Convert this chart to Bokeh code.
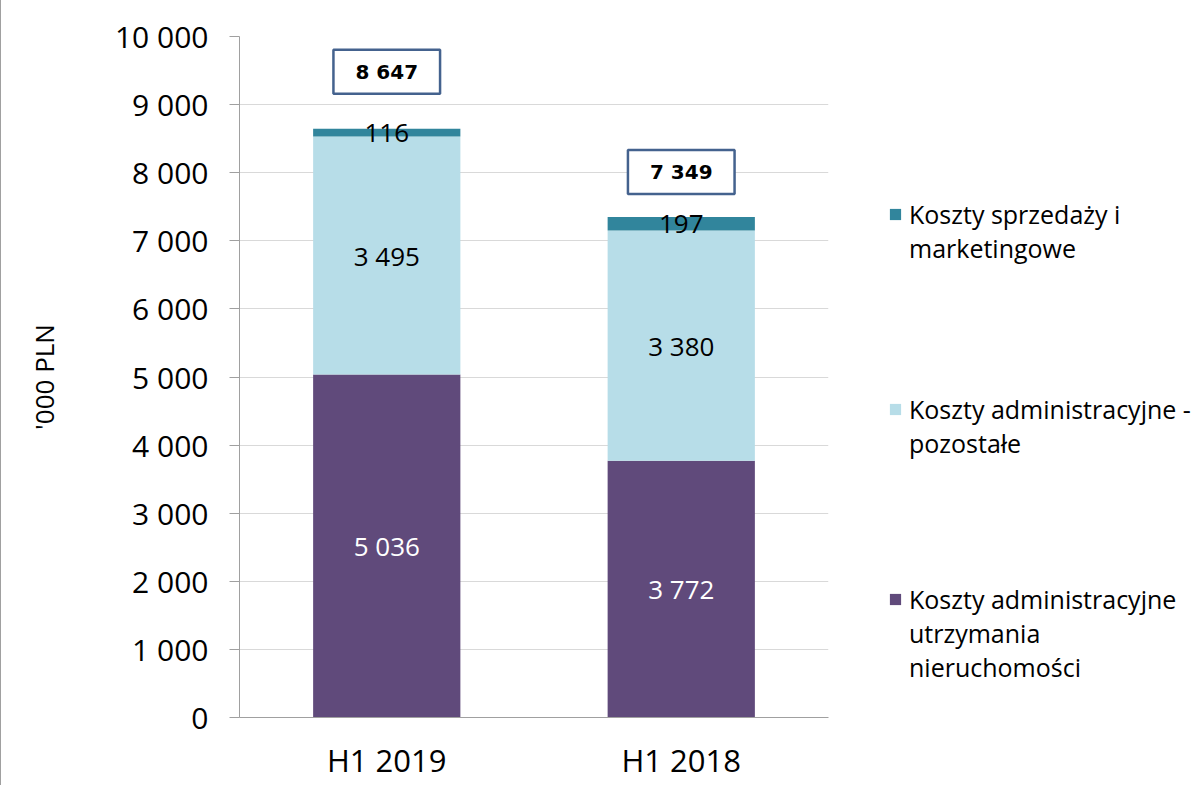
from bokeh.plotting import figure
from bokeh.layouts import row
from bokeh.models import ColumnDataSource, FactorRange, Range1d, Legend, LegendItem, FixedTicker
from bokeh.core.properties import value
from bokeh.embed import file_html
from bokeh.resources import INLINE

# ---- data ----
categories = ["H1 2019", "H1 2018"]
utrzymanie = [5036, 3772]      # Koszty administracyjne utrzymania nieruchomości
pozostale = [3495, 3380]       # Koszty administracyjne - pozostałe
sprzedaz = [116, 197]          # Koszty sprzedaży i marketingowe
totals = [8647, 7349]
series_lines = [
    ["Koszty administracyjne", "utrzymania", "nieruchomości"],
    ["Koszty administracyjne -", "pozostałe"],
    ["Koszty sprzedaży i", "marketingowe"],
]
y_ticks = [0, 1000, 2000, 3000, 4000, 5000, 6000, 7000, 8000, 9000, 10000]
y_tick_labels = ["0", "1 000", "2 000", "3 000", "4 000", "5 000",
                 "6 000", "7 000", "8 000", "9 000", "10 000"]

# ---- style / layout ----
colors = ["#604A7B", "#B7DDE8", "#31859C"]
label_colors = ["white", "black", "black"]
total_offset_px = [-57, -45]
legend_bottoms_px = [33, 257, 452]   # legend block positions (screen px from bottom)
FONT = "Open Sans"
H = 785

def fmt(v):
    return f"{v:,}".replace(",", " ")

p = figure(
    x_range=FactorRange(*categories, range_padding=0),
    y_range=Range1d(0, 10000),
    width=830, height=H,
    min_border_left=238, min_border_right=3,
    min_border_top=36, min_border_bottom=68,
    output_backend="svg", toolbar_location=None,
)
p.styles = {"border-left": "1px solid #a0a0a0"}

src = ColumnDataSource(dict(cat=categories, a=utrzymanie, b=pozostale, c=sprzedaz))
rs = p.vbar_stack(["a", "b", "c"], x="cat", width=0.5, color=colors,
                  line_color=None, source=src)

# segment labels
lx, ly, lt, lc = [], [], [], []
for i, cat in enumerate(categories):
    base = 0
    for vals, col in zip([utrzymanie, pozostale, sprzedaz], label_colors):
        v = vals[i]
        lx.append(cat)
        ly.append(base + v / 2)
        lt.append(fmt(v))
        lc.append(col)
        base += v
p.text(x=lx, y=ly, text=lt, text_color=lc, text_align="center",
       text_baseline="middle", text_font=value(FONT), text_font_size="26px")

# total boxes
p.text(x=categories, y=totals, text=[fmt(t) for t in totals],
       y_offset=total_offset_px, text_align="center", text_baseline="middle",
       text_font=value("DejaVu Sans"), text_font_style="bold",
       text_font_size="20px", text_color="black",
       background_fill_color="white", border_line_color="#44628E",
       border_line_width=2.5,
       padding=dict(left=22, right=22, top=10, bottom=10))

# axes
p.yaxis.ticker = FixedTicker(ticks=y_ticks)
p.yaxis.major_label_overrides = {t: l for t, l in zip(y_ticks, y_tick_labels)}
p.yaxis.major_label_text_font = FONT
p.yaxis.major_label_text_font_size = "30px"
p.yaxis.major_label_text_color = "black"
p.yaxis.major_label_standoff = 21
p.yaxis.major_tick_out = 10
p.yaxis.major_tick_in = 0
p.yaxis.minor_tick_line_color = None
p.yaxis.axis_line_color = "#a0a0a0"
p.yaxis.major_tick_line_color = "#a0a0a0"
p.yaxis.axis_label = "'000 PLN"
p.yaxis.axis_label_text_font = FONT
p.yaxis.axis_label_text_font_size = "26px"
p.yaxis.axis_label_text_font_style = "normal"
p.yaxis.axis_label_text_color = "black"
p.yaxis.axis_label_standoff = 50

p.xaxis.major_label_text_font = FONT
p.xaxis.major_label_text_font_size = "31px"
p.xaxis.major_label_text_color = "black"
p.xaxis.major_label_standoff = 15
p.xaxis.major_tick_line_color = None
p.xaxis.axis_line_color = "#a0a0a0"

p.xgrid.visible = False
p.ygrid.grid_line_color = "#d9d9d9"
p.outline_line_color = None

# ---- legend panel ----
lg = figure(width=1195 - 830, height=H, x_range=Range1d(0, 1), y_range=Range1d(0, 1),
            min_border=0, output_backend="svg", toolbar_location=None)
lg.axis.visible = False
lg.grid.visible = False
lg.outline_line_color = None
# zero-size placeholder glyphs: only their legend swatches are shown
blank = lg.vbar(x=[0.5], top=[0], bottom=[0], width=0, fill_alpha=0, line_alpha=0)

for lines, col, bottom in zip(series_lines, colors, legend_bottoms_px):
    swatch = lg.vbar(x=[0.5], top=[0], bottom=[0], width=0, fill_color=col,
                     line_color=None)
    items = [LegendItem(label=lines[0], renderers=[swatch])]
    items += [LegendItem(label=t, renderers=[blank]) for t in lines[1:]]
    leg = Legend(items=items, location=(58, bottom), orientation="vertical",
                 glyph_width=14, glyph_height=14, label_standoff=7, spacing=0,
                 label_height=32, padding=0, margin=0, border_line_color=None,
                 background_fill_alpha=0, label_text_font=FONT,
                 label_text_font_size="25px", label_text_line_height=1.0,
                 label_text_color="black")
    lg.add_layout(leg)

layout = row(p, lg)
open("out.html", "w").write(file_html(layout, INLINE))
